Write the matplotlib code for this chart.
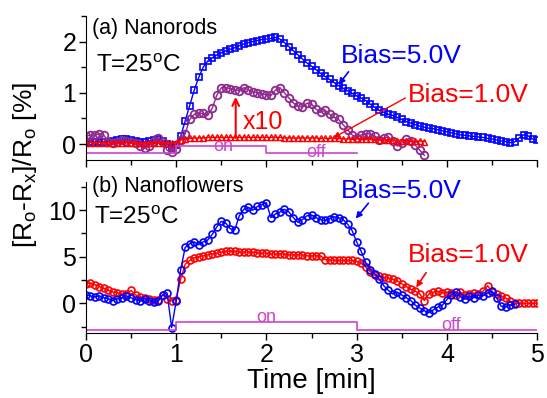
import numpy as np
import matplotlib.pyplot as plt
from matplotlib.ticker import MultipleLocator

plt.rcParams['font.family'] = ['Liberation Sans', 'DejaVu Sans']
plt.rcParams['mathtext.default'] = 'regular'

# sampling every 0.05 min
t = np.arange(101) * 0.05

# (a) nanorods
rods_5v = [0.05, 0.05, 0.04, 0.05, 0.04, 0.05, 0.06, 0.08, 0.10, 0.10,
           0.08, 0.07, 0.05, 0.04, 0.06, 0.08, 0.09, 0.06, 0.00, -0.08,
           -0.02, 0.15, 0.45, 0.75, 1.05, 1.30, 1.50, 1.62, 1.68, 1.74,
           1.78, 1.82, 1.85, 1.88, 1.92, 1.95, 1.98, 2.00, 2.02, 2.04,
           2.05, 2.06, 2.08, 2.05, 1.98, 1.90, 1.82, 1.74, 1.66, 1.58,
           1.52, 1.45, 1.38, 1.32, 1.26, 1.20, 1.14, 1.09, 1.04, 0.99,
           0.94, 0.90, 0.85, 0.78, 0.72, 0.66, 0.62, 0.58, 0.56, 0.52,
           0.48, 0.44, 0.41, 0.38, 0.35, 0.33, 0.31, 0.30, 0.28, 0.26,
           0.24, 0.22, 0.20, 0.18, 0.17, 0.16, 0.15, 0.14, 0.13, 0.11,
           0.10, 0.08, 0.06, 0.05, 0.03, 0.04, 0.12, 0.18, 0.16, 0.10,
           0.08]
rods_1v_x10 = [0.16, 0.17, 0.18, 0.20, 0.17, 0.05, 0.02, 0.05, 0.08, 0.06,
               0.04, 0.02, -0.04, -0.08, -0.04, 0.06, 0.12, 0.05, -0.12, -0.16,
               -0.10, 0.08, 0.20, 0.48, 0.58, 0.60, 0.60, 0.56, 0.70, 0.95,
               1.10, 1.10, 1.08, 1.06, 1.04, 1.10, 1.06, 1.02, 1.00, 0.98,
               0.96, 0.95, 1.05, 1.10, 1.00, 0.90, 0.80, 0.74, 0.72, 0.80,
               0.78, 0.68, 0.62, 0.66, 0.58, 0.52, 0.48, 0.38, 0.28, 0.18,
               0.12, 0.18, 0.20, 0.20, 0.16, 0.08, 0.12, 0.14, 0.06, -0.04,
               0.02, 0.10, 0.06, -0.02, -0.12, -0.22]
rods_1v = [0.03, 0.03, 0.02, 0.03, 0.03, 0.02, 0.03, 0.03, 0.02, 0.03,
           0.02, 0.02, 0.03, 0.02, 0.02, 0.03, 0.02, 0.02, 0.03, 0.02,
           0.03, 0.08, 0.10, 0.11, 0.12, 0.12, 0.12, 0.13, 0.13, 0.13,
           0.13, 0.13, 0.13, 0.13, 0.13, 0.13, 0.13, 0.13, 0.13, 0.13,
           0.13, 0.13, 0.13, 0.13, 0.12, 0.12, 0.12, 0.12, 0.12, 0.12,
           0.12, 0.12, 0.11, 0.11, 0.11, 0.11, 0.11, 0.10, 0.10, 0.10,
           0.10, 0.10, 0.09, 0.09, 0.09, 0.08, 0.08, 0.08, 0.08, 0.07,
           0.07, 0.07, 0.06, 0.06, 0.06, 0.05]

# (b) nanoflowers
flowers_5v = [0.9, 0.8, 0.7, 0.8, 0.6, 0.5, 0.3, 0.5, 0.6, 0.8,
              0.6, 0.4, 0.3, 0.5, 0.3, 0.1, 0.2, 0.9, 1.1, -2.6,
              0.2, 3.6, 6.0, 6.4, 6.6, 6.3, 6.6, 6.8, 7.4, 8.2,
              8.8, 8.6, 8.0, 7.9, 9.4, 10.1, 10.3, 10.0, 10.4, 10.6,
              10.8, 9.2, 9.6, 9.8, 10.1, 9.8, 9.2, 8.7, 9.0, 9.4,
              9.5, 9.2, 9.0, 8.9, 9.1, 9.3, 9.2, 9.0, 8.5, 7.8,
              6.6, 5.6, 4.4, 3.6, 3.2, 2.6, 1.9, 1.4, 1.0, 1.2,
              0.9, 0.6, 0.3, -0.2, -0.5, -0.8, -1.0, -0.7, -0.4, -0.2,
              0.4, 0.9, 1.2, 0.7, 0.5, 0.8, 0.6, 0.9, 0.8, 1.1,
              1.3, 0.6, -0.3, -0.4, -0.2, -0.1]
flowers_1v = [2.1, 2.2, 2.0, 1.8, 1.6, 1.4, 1.2, 1.1, 1.0, 1.0,
              1.4, 0.9, 0.7, 0.6, 0.5, 0.4, 0.4, 0.9, 0.5, 0.3,
              0.4, 2.6, 4.2, 4.6, 4.9, 5.0, 5.1, 5.2, 5.3, 5.4,
              5.5, 5.6, 5.6, 5.6, 5.5, 5.5, 5.5, 5.5, 5.4, 5.4,
              5.4, 5.3, 5.3, 5.3, 5.3, 5.2, 5.2, 5.2, 5.2, 5.1,
              5.1, 5.1, 5.1, 4.7, 4.7, 4.6, 4.6, 4.6, 4.6, 4.6,
              4.5, 4.3, 3.9, 3.4, 3.0, 2.9, 2.8, 2.7, 2.6, 2.4,
              2.1, 1.8, 1.5, 1.3, 1.0, 0.3, 1.0, 1.2, 1.3, 1.1,
              1.2, 1.1, 0.9, 1.2, 0.9, 1.0, 1.1, 1.0, 1.3, 1.9,
              1.2, 1.0, 0.8, 0.6, 0.2, 0.0, 0.0, 0.0, 0.0, 0.0,
              0.0]

# light on/off sequence
switch_t_a = [0, 1, 2, 3]
switch_a = [0, 1, 0, 0]
switch_t_b = [0, 1, 3, 5]
switch_b = [0, 1, 0, 0]

BLUE = '#0000ff'
RED = '#ff0000'
PURPLE = '#8e2a8e'
MAGENTA = '#cc44cc'

fig = plt.figure(figsize=(5.47, 3.98), dpi=100)
ax1 = fig.add_axes([0.157, 0.598, 0.825, 0.362])
ax2 = fig.add_axes([0.157, 0.163, 0.825, 0.379])

# ---- (a) nanorods
ax1.plot(t[:len(rods_5v)], rods_5v, color=BLUE, lw=1.0, marker='s', ms=4.5,
         mfc='none', mew=1.2)
ax1.plot(t[:len(rods_1v_x10)], rods_1v_x10, color=PURPLE, lw=1.0, marker='o',
         ms=5.5, mfc='none', mew=1.3)
ax1.plot(t[:len(rods_1v)], rods_1v, color=RED, lw=1.0, marker='^', ms=4.0,
         mfc='none', mew=1.0)
off_a, on_a = -0.18, -0.03
ax1.step(switch_t_a, [off_a + s * (on_a - off_a) for s in switch_a],
         where='post', color=MAGENTA, lw=1.2)
ax1.text(1.52, -0.04, 'on', color=MAGENTA, fontsize=13, ha='center', va='center')
ax1.text(2.55, -0.17, 'off', color=MAGENTA, fontsize=13, ha='center', va='center')

ax1.text(0.07, 2.25, '(a) Nanorods', fontsize=15.5, va='center')
ax1.text(0.11, 1.53, 'T=25$^{o}$C', fontsize=17.5, va='center')
ax1.text(2.82, 1.72, 'Bias=5.0V', color=BLUE, fontsize=19, va='center')
ax1.annotate('', xy=(2.80, 1.16), xytext=(2.91, 1.41),
             arrowprops=dict(arrowstyle='-|>', color=BLUE, lw=1.2,
                             mutation_scale=9, shrinkA=0, shrinkB=0))
ax1.text(3.57, 0.96, 'Bias=1.0V', color=RED, fontsize=19, va='center')
ax1.annotate('', xy=(2.74, 0.12), xytext=(3.54, 0.90),
             arrowprops=dict(arrowstyle='-|>', color=RED, lw=1.0,
                             mutation_scale=9, shrinkA=0, shrinkB=0))
ax1.annotate('', xy=(1.66, 0.92), xytext=(1.66, 0.12),
             arrowprops=dict(arrowstyle='->', color=RED, lw=1.5,
                             mutation_scale=12, shrinkA=0, shrinkB=0))
ax1.text(1.74, 0.43, 'x10', color=RED, fontsize=18, va='center')

ax1.set_xlim(0, 5)
ax1.set_ylim(-0.31, 2.5)
ax1.yaxis.set_major_locator(MultipleLocator(1))
ax1.yaxis.set_minor_locator(MultipleLocator(0.5))
ax1.tick_params(labelbottom=False)

# ---- (b) nanoflowers
ax2.plot(t[:len(flowers_1v)], flowers_1v, color=RED, lw=1.0, marker='o',
         ms=5.0, mfc='none', mew=1.2)
ax2.plot(t[:len(flowers_5v)], flowers_5v, color=BLUE, lw=1.0, marker='o',
         ms=5.0, mfc='none', mew=1.2)
off_b, on_b = -2.85, -2.05
ax2.step(switch_t_b, [off_b + s * (on_b - off_b) for s in switch_b],
         where='post', color=MAGENTA, lw=1.2)
ax2.text(2.0, -1.55, 'on', color=MAGENTA, fontsize=13, ha='center', va='center')
ax2.text(4.05, -2.35, 'off', color=MAGENTA, fontsize=13, ha='center', va='center')

ax2.text(0.07, 12.6, '(b) Nanoflowers', fontsize=15.5, va='center')
ax2.text(0.09, 9.2, 'T=25$^{o}$C', fontsize=17.5, va='center')
ax2.text(2.82, 12.1, 'Bias=5.0V', color=BLUE, fontsize=19, va='center')
ax2.annotate('', xy=(2.99, 9.1), xytext=(3.13, 10.75),
             arrowprops=dict(arrowstyle='-|>', color=BLUE, lw=1.2,
                             mutation_scale=9, shrinkA=0, shrinkB=0))
ax2.text(3.57, 5.2, 'Bias=1.0V', color=RED, fontsize=19, va='center')
ax2.annotate('', xy=(3.66, 1.7), xytext=(3.77, 3.3),
             arrowprops=dict(arrowstyle='-|>', color=RED, lw=1.2,
                             mutation_scale=9, shrinkA=0, shrinkB=0))

ax2.set_xlim(0, 5)
ax2.set_ylim(-3.2, 13)
ax2.yaxis.set_major_locator(MultipleLocator(5))
ax2.yaxis.set_minor_locator(MultipleLocator(2.5))
ax2.set_xlabel('Time [min]', fontsize=20, labelpad=1)

for ax in (ax1, ax2):
    ax.spines['top'].set_visible(False)
    ax.spines['right'].set_visible(False)
    ax.xaxis.set_major_locator(MultipleLocator(1))
    ax.xaxis.set_minor_locator(MultipleLocator(0.5))
    ax.tick_params(which='major', direction='out', length=5, width=1,
                   labelsize=18, pad=2)
    ax.tick_params(which='minor', direction='out', length=3.5, width=1)

fig.text(0.045, 0.585, '[R$_o$-R$_x$]/R$_o$ [%]', rotation=90, fontsize=19,
         ha='center', va='center')

fig.savefig('out.png', dpi=100)
